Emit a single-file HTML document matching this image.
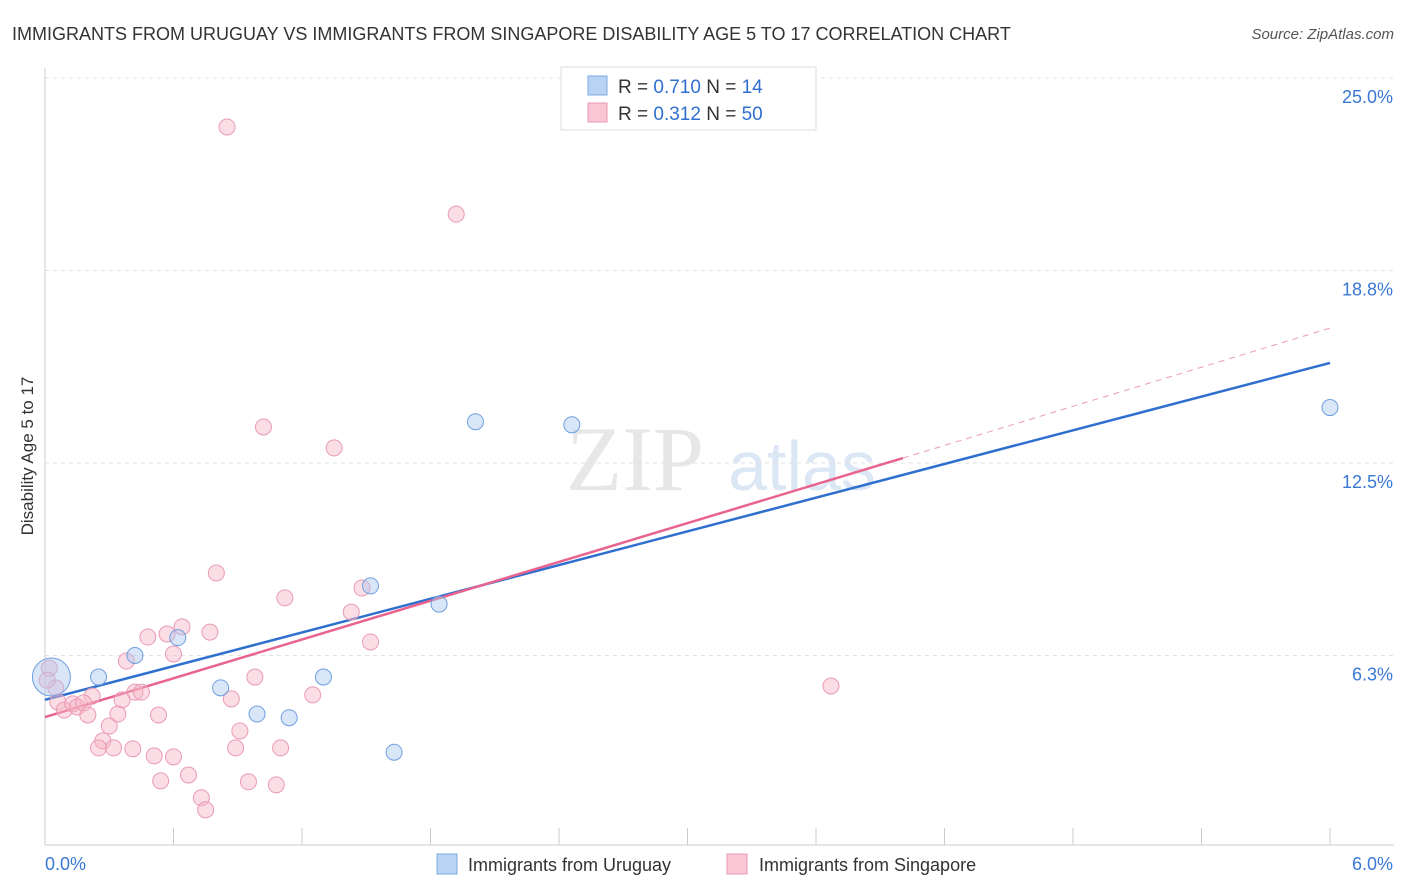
<!DOCTYPE html>
<html><head><meta charset="utf-8"><style>
body{margin:0;background:#fff;font-family:"Liberation Sans",sans-serif;}
svg{display:block}
</style></head><body>
<svg id="chart" width="1406" height="892">
<text x="12" y="40" font-size="18" fill="#333">IMMIGRANTS FROM URUGUAY VS IMMIGRANTS FROM SINGAPORE DISABILITY AGE 5 TO 17 CORRELATION CHART</text>
<text x="1394" y="39" font-size="15" fill="#555" font-style="italic" text-anchor="end">Source: ZipAtlas.com</text>
<text x="33" y="456" font-size="17" fill="#333" text-anchor="middle" transform="rotate(-90 33 456)">Disability Age 5 to 17</text>
<g opacity="0.35">
<text x="635" y="490" font-size="92" font-family="Liberation Serif,serif" fill="#bbb" text-anchor="middle">ZIP</text>
<text x="802" y="490" font-size="70" fill="#9bbbe0" text-anchor="middle">atlas</text>
</g>
<g id="grid"></g><g id="axes"></g><g id="lines"></g><g id="pts"></g>
<g>
<rect x="561" y="67" width="255" height="63" fill="#fff" stroke="#ddd"/>
<rect x="588" y="76" width="19" height="19" fill="#b9d3f5" stroke="#7fa8e0"/>
<rect x="588" y="103" width="19" height="19" fill="#f9c6d5" stroke="#eb9ab4"/>
<text x="618" y="93" font-size="19" fill="#333">R = <tspan fill="#2f6fd0">0.710</tspan>   N = <tspan fill="#2f6fd0"> 14</tspan></text>
<text x="618" y="120" font-size="19" fill="#333">R = <tspan fill="#2f6fd0"> 0.312</tspan>   N = <tspan fill="#2f6fd0">50</tspan></text>
</g>
<g>
<rect x="437" y="854" width="20" height="20" fill="#b9d3f5" stroke="#7fa8e0"/>
<text x="468" y="871" font-size="18" fill="#333">Immigrants from Uruguay</text>
<rect x="727" y="854" width="20" height="20" fill="#f9c6d5" stroke="#eb9ab4"/>
<text x="759" y="871" font-size="18" fill="#333">Immigrants from Singapore</text>
</g>
</svg>
<script>
const yTicks=[6.25,12.5,18.75,25];
const yTickLabels=["6.3%","12.5%","18.8%","25.0%"];
const xTickCount=10;
const uruguayX=[0.03,0.25,0.42,0.62,0.82,0.99,1.14,1.30,1.52,1.63,1.84,2.01,2.46,6.00];
const uruguayY=[5.55,5.55,6.25,6.83,5.20,4.35,4.23,5.55,8.51,3.11,7.92,13.84,13.74,14.30];
const singX=[0.85,1.92,1.02,1.35,0.80,1.12,1.48,1.43,1.52,0.77,0.64,0.57,0.48,0.60,0.38,3.67,0.98,1.25,0.87,0.42,0.45,0.22,0.36,0.05,0.06,0.09,0.13,0.15,0.18,0.20,0.34,0.53,0.30,0.91,0.27,0.25,0.32,0.41,0.89,1.10,0.51,0.60,0.54,0.67,0.95,1.08,0.73,0.75,0.02,0.01];
const singY=[23.41,20.58,13.67,12.99,8.93,8.12,8.44,7.66,6.69,7.01,7.18,6.95,6.85,6.30,6.07,5.26,5.55,4.97,4.84,5.06,5.06,4.93,4.81,5.20,4.74,4.48,4.68,4.58,4.71,4.32,4.35,4.32,3.96,3.80,3.48,3.25,3.25,3.22,3.25,3.25,2.99,2.96,2.18,2.37,2.15,2.05,1.63,1.24,5.84,5.45];
const uruguayTrend=[[0,4.81],[6,15.75]];
const singTrend=[[0,4.25],[4.006,12.66],[6,16.88]];
const NS="http://www.w3.org/2000/svg";
const X=v=>45+v/6*1285;
const Y=v=>655.5-(v-6.25)*30.8;
function mk(tag,attrs,parent){const e=document.createElementNS(NS,tag);for(const k in attrs)e.setAttribute(k,attrs[k]);document.getElementById(parent).appendChild(e);return e;}
yTicks.forEach((t,i)=>{
 const l=mk('line',{x1:45,x2:1394,y1:Y(t),y2:Y(t),stroke:'#e2e2e2','stroke-dasharray':'4,4'},'grid');
 
 
 const tx=mk('text',{x:1393,y:Y(t)+25,'font-size':18,fill:'#3a78d4','text-anchor':'end'},'axes');
 tx.textContent=yTickLabels[i];
 
 
});
const ax=mk('line',{x1:45,x2:1394,y1:845,y2:845,stroke:'#ccc'},'axes');


const ay=mk('line',{x1:45,x2:45,y1:68,y2:845,stroke:'#ccc'},'axes');


for(let i=1;i<=xTickCount;i++){const v=6*i/xTickCount;const t=mk('line',{x1:X(v),x2:X(v),y1:828,y2:845,stroke:'#ccc'},'axes');
 
 }
[["0.0%",45,'start'],["6.0%",1393,'end']].forEach(a=>{const t=mk('text',{x:a[1],y:870,'font-size':18,fill:'#3a78d4','text-anchor':a[2]},'axes');t.textContent=a[0];
 
 });
const bl=mk('line',{x1:X(uruguayTrend[0][0]),y1:Y(uruguayTrend[0][1]),x2:X(uruguayTrend[1][0]),y2:Y(uruguayTrend[1][1]),stroke:'#2f6fd0','stroke-width':2.5},'lines');


const pl=mk('line',{x1:X(singTrend[0][0]),y1:Y(singTrend[0][1]),x2:X(singTrend[1][0]),y2:Y(singTrend[1][1]),stroke:'#e8648f','stroke-width':2.5},'lines');


const pd=mk('line',{x1:X(singTrend[1][0]),y1:Y(singTrend[1][1]),x2:X(singTrend[2][0]),y2:Y(singTrend[2][1]),stroke:'#eb9ab4','stroke-width':1,'stroke-dasharray':'6,5'},'lines');


singX.forEach((v,i)=>{const c=mk('circle',{cx:X(v),cy:Y(singY[i]),r:8,fill:'rgba(246,180,200,0.45)',stroke:'#eb9ab4','stroke-width':1},'pts');
 
 });
uruguayX.forEach((v,i)=>{const c=mk('circle',{cx:X(v),cy:Y(uruguayY[i]),r:i===0?19:8,fill:'rgba(170,200,240,0.45)',stroke:'#6f9fe0','stroke-width':1},'pts');
 
 });
</script>
</body></html>
